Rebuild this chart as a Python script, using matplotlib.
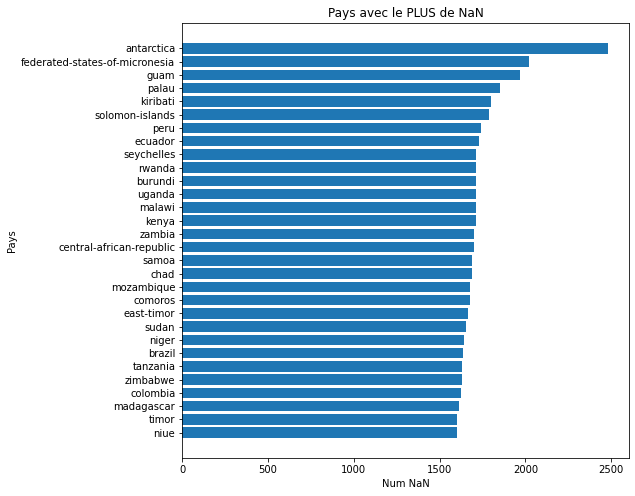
import matplotlib
matplotlib.use("Agg")
import matplotlib.pyplot as plt

countries = ["antarctica", "federated-states-of-micronesia", "guam", "palau", "kiribati",
             "solomon-islands", "peru", "ecuador", "seychelles", "rwanda", "burundi",
             "uganda", "malawi", "kenya", "zambia", "central-african-republic", "samoa",
             "chad", "mozambique", "comoros", "east-timor", "sudan", "niger", "brazil",
             "tanzania", "zimbabwe", "colombia", "madagascar", "timor", "niue"]
num_nan = [2482, 2023, 1970, 1853, 1801, 1789, 1742, 1731, 1713, 1713, 1713,
           1713, 1713, 1713, 1702, 1702, 1690, 1690, 1679, 1679, 1667, 1655,
           1643, 1638, 1632, 1632, 1626, 1614, 1603, 1603]

fig = plt.figure(figsize=(635/72, 496/72), dpi=72)
ax = fig.add_axes([0.2871, 0.0772, 0.991-0.2871, 0.953-0.0772])
ax.barh(countries[::-1], num_nan[::-1], color="#1f77b4")
ax.set_title("Pays avec le PLUS de NaN")
ax.set_xlabel("Num NaN")
ax.set_ylabel("Pays")
fig.savefig("out.png", dpi=72)
